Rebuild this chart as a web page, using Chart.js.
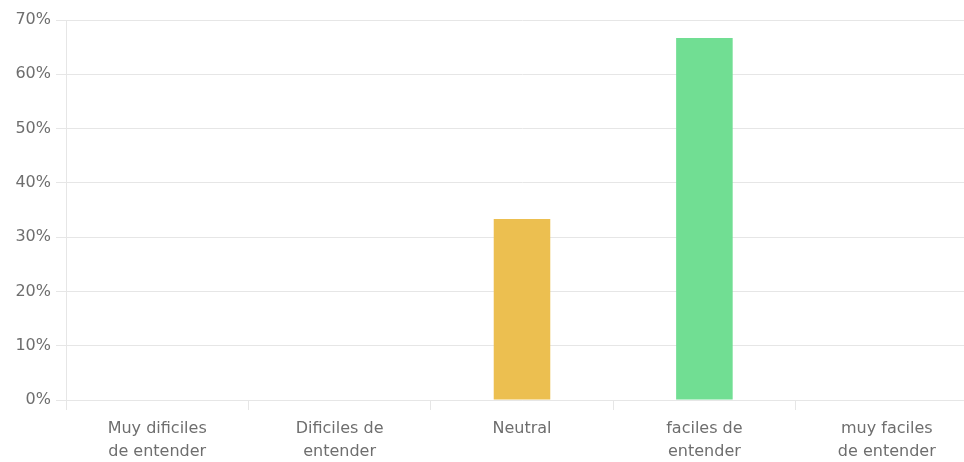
<!DOCTYPE html>
<html>
<head>
    <title>Comprension de las preguntas</title>
    <script src="https://cdn.jsdelivr.net/npm/chart.js@4.4.0/dist/chart.umd.min.js"></script>
    <style>
        body {
            margin: 0;
            background-color: white;
            overflow: hidden;
        }
        .chart-container {
            width: 980px;
            height: 462px;
        }
    </style>
</head>
<body>
    <div class="chart-container">
        <canvas id="respuestasChart"></canvas>
    </div>

    <script>
    // categorias de la escala y porcentaje de respuestas
    const categorias = [
        ['Muy dificiles', 'de entender'],
        ['Dificiles de', 'entender'],
        'Neutral',
        ['faciles de', 'entender'],
        ['muy faciles', 'de entender']
    ];
    const porcentajes = [0, 0, 33.33, 66.67, 0];
    const colores = ['#e57373', '#f0a860', '#ecbf50', '#71de93', '#4fc3a1'];
    const ticksY = [0, 10, 20, 30, 40, 50, 60, 70];

    const gridColor = '#e6e6e6';
    const textColor = '#6e6e6e';
    const fuente = { family: 'DejaVu Sans', size: 16, lineHeight: 1.45 };

    const config = {
        type: 'bar',
        data: {
            labels: categorias,
            datasets: [{
                data: porcentajes,
                backgroundColor: colores,
                categoryPercentage: 1,
                barPercentage: 0.31
            }]
        },
        options: {
            responsive: true,
            maintainAspectRatio: false,
            animation: false,
            layout: {
                padding: { top: 20, right: 2 }
            },
            plugins: {
                legend: { display: false },
                tooltip: { enabled: false }
            },
            scales: {
                x: {
                    grid: {
                        drawOnChartArea: false,
                        color: gridColor,
                        tickLength: 10
                    },
                    border: { color: gridColor },
                    ticks: {
                        color: textColor,
                        font: fuente,
                        maxRotation: 0,
                        padding: 7
                    },
                    afterFit(scale) { scale.height = 62; }
                },
                y: {
                    min: 0,
                    max: ticksY[ticksY.length - 1],
                    grid: {
                        color: gridColor,
                        tickLength: 10
                    },
                    border: { color: gridColor },
                    afterBuildTicks(scale) {
                        scale.ticks = ticksY.map(v => ({ value: v }));
                    },
                    ticks: {
                        color: textColor,
                        font: fuente,
                        padding: 5,
                        callback: v => v + '%'
                    },
                    afterFit(scale) { scale.width = 66; }
                }
            }
        }
    };

    new Chart(document.getElementById('respuestasChart'), config);
    </script>
</body>
</html>
